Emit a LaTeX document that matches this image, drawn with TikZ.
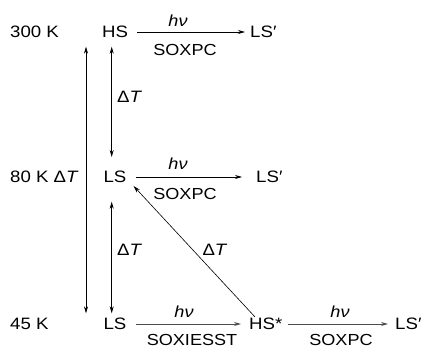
\documentclass[tikz,border=0pt]{standalone}
\usepackage{fontspec}
\setmainfont{Liberation Sans}[FakeStretch=1.13]
\usetikzlibrary{arrows.meta}
\begin{document}
\begin{tikzpicture}[x=1pt,y=-1pt,
  lab/.style={inner sep=0pt,font=\fontsize{16.5}{18}\selectfont},
  sm/.style={inner sep=0pt,font=\fontsize{16}{18}\selectfont},
  arr/.style={line width=0.7pt,-{Stealth[length=7pt,width=4pt]}},
  darr/.style={line width=0.7pt,{Stealth[length=7pt,width=4pt]}-{Stealth[length=7pt,width=4pt]}},
  garr/.style={line width=0.9pt,black!70,-{Stealth[length=7pt,width=4pt]}}]
\useasboundingbox (0,0) rectangle (433,345);
\clip (0,0) rectangle (433,345);
% row labels
\node[lab,anchor=west] (t300) at (10,32) {300 K};
\node[lab,anchor=west] (t80) at (10,177) {80 K Δ\textit{T}};
\node[lab,anchor=west] (t45) at (10,324) {45 K};
% states
\node[lab] (HS) at (115,32) {HS};
\node[lab,anchor=west] (LSa) at (250,32) {LS′};
\node[lab] (LSm) at (115,177) {LS};
\node[lab,anchor=west] (LSb) at (256,177) {LS′};
\node[lab] (LSl) at (115,324) {LS};
\node[lab,anchor=west] (HSs) at (249,324) {HS*};
\node[lab,anchor=west] (LSc) at (395,324) {LS′};
% horizontal arrows
\draw[arr] ([xshift=9pt]HS.east) -- ([xshift=-5pt]LSa.west);
\node[sm] (hv1) at (178,21) {\textit{hν}};
\node[sm] (sx1) at (185,50) {SOXPC};
\draw[arr] ([xshift=9pt]LSm.east) -- ([xshift=-14pt]LSb.west);
\node[sm] (hv2) at (178,163.5) {\textit{hν}};
\node[sm] (sx2) at (185,193.5) {SOXPC};
\draw[garr] ([xshift=9pt]LSl.east) -- ([xshift=-8pt]HSs.west);
\node[sm] (hv3) at (184,312) {\textit{hν}};
\node[sm,anchor=north] (sx3) at (192,334.5) {SOXIESST};
\draw[garr] ([xshift=5pt]HSs.east) -- ([xshift=-7pt]LSc.west);
\node[sm] (hv4) at (340,312) {\textit{hν}};
\node[sm,anchor=north] (sx4) at (341,334.5) {SOXPC};
% vertical arrows
\coordinate (L1) at (86,46.7);
\coordinate (L2) at (86,313.3);
\draw[darr,line width=0.6pt] (L1) -- (L2);
\coordinate (V1) at (111.7,46.7);
\coordinate (V2) at (111.7,157);
\draw[darr,line width=0.9pt] (V1) -- (V2);
\node[lab,anchor=west] (dT1) at (117,96.5) {Δ\textit{T}};
\coordinate (V3) at (111.7,201.7);
\coordinate (V4) at (111.7,313.3);
\draw[darr,line width=0.9pt] (V3) -- (V4);
\node[lab,anchor=west] (dT2) at (117,250) {Δ\textit{T}};
% diagonal
\draw[arr,line width=0.6pt] ([xshift=6pt,yshift=1pt]HSs.north west) -- ([xshift=7pt,yshift=-3pt]LSm.south east);
\node[lab] (dT3) at (215,250) {Δ\textit{T}};
\end{tikzpicture}
\end{document}
